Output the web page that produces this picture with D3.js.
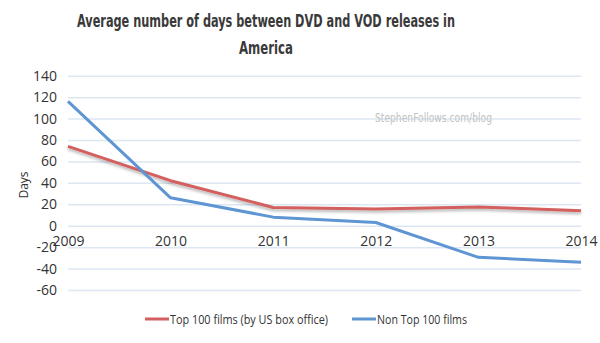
<!DOCTYPE html>
<html>
<head>
<meta charset="utf-8">
<script src="https://cdnjs.cloudflare.com/ajax/libs/d3/7.8.5/d3.min.js"></script>
<style>
  body { margin: 0; background: #fff; }
  text { font-family: "Open Sans", "DejaVu Sans", sans-serif; fill: #333; }
</style>
</head>
<body>
<div id="chart"></div>
<script>
const years = ["2009", "2010", "2011", "2012", "2013", "2014"];
const top100 = [74, 42, 17, 15.5, 17.5, 14];
const nonTop100 = [116, 26, 8, 3, -29.5, -34];
const yTicks = [-60, -40, -20, 0, 20, 40, 60, 80, 100, 120, 140];
const seriesNames = ["Top 100 films (by US box office)", "Non Top 100 films"];
const colors = ["#d35f5e", "#5e95d2"];

const width = 600, height = 343;

const svg = d3.select("#chart")
    .append("svg")
    .attr("width", width)
    .attr("height", height);

const defs = svg.append("defs");
const shadow = defs.append("filter")
    .attr("id", "shadow")
    .attr("x", "-5%").attr("y", "-20%")
    .attr("width", "110%").attr("height", "160%");
shadow.append("feDropShadow")
    .attr("dx", 0).attr("dy", 2)
    .attr("stdDeviation", 1.5)
    .attr("flood-color", "#000")
    .attr("flood-opacity", 0.3);

const xScale = d3.scalePoint().domain(years).range([68, 581]);
const yScale = d3.scaleLinear().domain([0, 140]).range([225.7, 75.7]);

// title
const titleFont = "'DejaVu Sans Condensed', 'DejaVu Sans', sans-serif";
svg.append("text")
    .attr("x", 266).attr("y", 27)
    .attr("text-anchor", "middle")
    .style("font-family", titleFont)
    .style("font-weight", "bold")
    .style("font-size", "17px")
    .style("fill", "#3a3a3a")
    .attr("textLength", 378)
    .attr("lengthAdjust", "spacingAndGlyphs")
    .text("Average number of days between DVD and VOD releases in");

svg.append("text")
    .attr("x", 266).attr("y", 54)
    .attr("text-anchor", "middle")
    .style("font-family", titleFont)
    .style("font-weight", "bold")
    .style("font-size", "17px")
    .style("fill", "#3a3a3a")
    .attr("textLength", 54)
    .attr("lengthAdjust", "spacingAndGlyphs")
    .text("America");

// grid + y axis
const yAxis = svg.append("g")
    .attr("transform", "translate(68,0)")
    .call(d3.axisLeft(yScale)
        .tickValues(yTicks)
        .tickFormat(d => String(d))
        .tickSize(-513)
        .tickPadding(12));
yAxis.select(".domain").remove();
yAxis.selectAll(".tick line").attr("stroke", "#dbe7f3").attr("stroke-width", 1.5);
yAxis.selectAll(".tick text")
    .style("font-size", "14px")
    .style("fill", "#333")
    .attr("x", -11);

// x axis labels
const xAxis = svg.append("g")
    .attr("transform", "translate(0,236)")
    .call(d3.axisBottom(xScale).tickSize(0).tickPadding(0));
xAxis.select(".domain").remove();
xAxis.selectAll(".tick text")
    .style("font-size", "14px")
    .style("fill", "#333");

// y title
svg.append("text")
    .attr("transform", "translate(28,185) rotate(-90)")
    .attr("text-anchor", "middle")
    .style("font-size", "12px")
    .text("Days");

// watermark
svg.append("text")
    .attr("x", 375).attr("y", 122)
    .style("font-family", titleFont)
    .style("font-size", "12px")
    .style("fill", "#c2c2c2")
    .attr("textLength", 117)
    .attr("lengthAdjust", "spacingAndGlyphs")
    .text("StephenFollows.com/blog");

const line = d3.line()
    .x((d, i) => xScale(years[i]))
    .y(d => yScale(d));

svg.append("path")
    .datum(top100)
    .attr("fill", "none")
    .attr("stroke", colors[0])
    .attr("stroke-width", 3)
    .attr("stroke-linejoin", "round")
    .attr("filter", "url(#shadow)")
    .attr("d", line);

svg.append("path")
    .datum(nonTop100)
    .attr("fill", "none")
    .attr("stroke", colors[1])
    .attr("stroke-width", 3)
    .attr("stroke-linejoin", "round")
    .attr("d", line);

// legend
const legendX = [145, 352];
const legendW = [158, 90];
const legend = svg.selectAll(".legend")
    .data(seriesNames)
    .enter()
    .append("g")
    .attr("class", "legend")
    .attr("transform", (d, i) => `translate(${legendX[i]},319)`);

legend.append("line")
    .attr("x1", 0).attr("x2", 24)
    .attr("y1", 0).attr("y2", 0)
    .attr("stroke", (d, i) => colors[i])
    .attr("stroke-width", 3);

legend.append("text")
    .attr("x", 25).attr("y", 4.5)
    .style("font-size", "12px")
    .attr("textLength", (d, i) => legendW[i])
    .attr("lengthAdjust", "spacingAndGlyphs")
    .text(d => d);
</script>
</body>
</html>
